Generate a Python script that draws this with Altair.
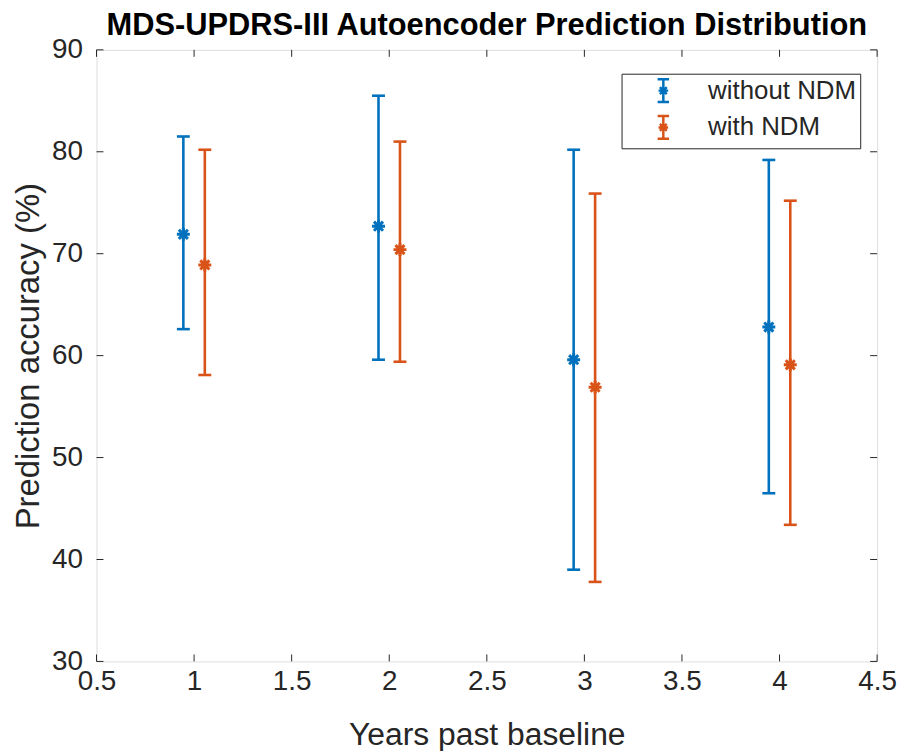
import altair as alt
import pandas as pd

years = [1, 2, 3, 4]
series_names = ["without NDM", "with NDM"]
without_mean = [71.9, 72.7, 59.6, 62.8]
without_upper = [81.5, 85.5, 80.2, 79.2]
without_lower = [62.6, 59.6, 39.0, 46.5]
with_mean = [68.9, 70.4, 56.9, 59.1]
with_upper = [80.2, 81.0, 75.9, 75.2]
with_lower = [58.1, 59.4, 37.8, 43.4]
x_ticks = [0.5, 1, 1.5, 2, 2.5, 3, 3.5, 4, 4.5]
y_ticks = [30, 40, 50, 60, 70, 80, 90]
dodge = 0.055

rows = []
for i, yr in enumerate(years):
    rows.append(dict(x=yr - dodge, mean=without_mean[i], lo=without_lower[i],
                     hi=without_upper[i], series=series_names[0]))
    rows.append(dict(x=yr + dodge, mean=with_mean[i], lo=with_lower[i],
                     hi=with_upper[i], series=series_names[1]))
df = pd.DataFrame(rows)

W, H = 785, 615
FONT = "Liberation Sans"
TXT = "#262626"
colors = ["#0072BD", "#D95319"]

xscale = alt.Scale(domain=[0.5, 4.5], nice=False, zero=False)
yscale = alt.Scale(domain=[30, 90], nice=False, zero=False)

xax = alt.Axis(values=x_ticks, format="~g", grid=False, ticks=False, domain=False,
               labelFontSize=28, labelFont=FONT, labelColor=TXT, labelPadding=6,
               title="Years past baseline", titleFontSize=32, titleFont=FONT,
               titleColor=TXT, titleFontWeight="normal", titlePadding=25,
               labelFlush=False, labelOverlap=False)
yax = alt.Axis(values=y_ticks, grid=False, ticks=False, domain=False,
               labelFontSize=28, labelFont=FONT, labelColor=TXT, labelPadding=14,
               title="Prediction accuracy (%)", titleFontSize=33, titleFont=FONT,
               titleColor=TXT, titleFontWeight="normal", titlePadding=6)

asterisk = "M-1,0L1,0M0,-1L0,1M-0.7,-0.7L0.7,0.7M-0.7,0.7L0.7,-0.7"
cap = "M-1,0L1,0"
legend_sym = ("M-0.5,-1L0.5,-1M0,-1L0,1M-0.5,1L0.5,1"
              "M-0.42,0L0.42,0M0,-0.42L0,0.42M-0.3,-0.3L0.3,0.3M-0.3,0.3L0.3,-0.3")

legend = alt.Legend(orient="none", legendX=528, legendY=24, title=None,
                    labelFontSize=26, labelFont=FONT, labelColor=TXT,
                    symbolType=legend_sym, symbolSize=529,
                    symbolStrokeWidth=2.5, symbolFillColor="transparent",
                    strokeColor=TXT, fillColor="white", padding=4,
                    symbolOffset=25, labelOffset=32, rowPadding=3,
                    labelLimit=400)
color = alt.Color("series:N", scale=alt.Scale(domain=series_names, range=colors),
                  legend=legend)

base = alt.Chart(df)
bars = base.mark_rule(strokeWidth=2.6).encode(
    x=alt.X("x:Q", scale=xscale, axis=xax),
    y=alt.Y("lo:Q", scale=yscale, axis=yax),
    y2="hi:Q",
    color=color,
)
caps_hi = base.mark_point(shape=cap, size=169, filled=False, strokeWidth=2.6, opacity=1).encode(
    x=alt.X("x:Q", scale=xscale), y=alt.Y("hi:Q", scale=yscale), color=color)
caps_lo = base.mark_point(shape=cap, size=169, filled=False, strokeWidth=2.6, opacity=1).encode(
    x=alt.X("x:Q", scale=xscale), y=alt.Y("lo:Q", scale=yscale), color=color)
pts = base.mark_point(shape=asterisk, size=170, filled=False, strokeWidth=3, opacity=1).encode(
    x=alt.X("x:Q", scale=xscale), y=alt.Y("mean:Q", scale=yscale), color=color)

ydf = pd.DataFrame({"v": y_ticks})
xdf = pd.DataFrame({"v": x_ticks})
tick_style = dict(color=TXT, strokeWidth=1)
yt_left = alt.Chart(ydf).mark_rule(**tick_style).encode(
    y=alt.Y("v:Q", scale=yscale), x=alt.value(0), x2=alt.value(7))
yt_right = alt.Chart(ydf).mark_rule(**tick_style).encode(
    y=alt.Y("v:Q", scale=yscale), x=alt.value(W - 7), x2=alt.value(W))
xt_bot = alt.Chart(xdf).mark_rule(**tick_style).encode(
    x=alt.X("v:Q", scale=xscale), y=alt.value(H), y2=alt.value(H - 7))
xt_top = alt.Chart(xdf).mark_rule(**tick_style).encode(
    x=alt.X("v:Q", scale=xscale), y=alt.value(0), y2=alt.value(7))

chart = alt.layer(yt_left, yt_right, xt_bot, xt_top, bars, caps_hi, caps_lo, pts).properties(
    width=W, height=H,
    title=alt.TitleParams("MDS-UPDRS-III Autoencoder Prediction Distribution",
                          fontSize=31, font=FONT, fontWeight="bold", color="#000000",
                          anchor="middle", offset=8, dy=14),
    autosize=alt.AutoSizeParams(type="none"),
    padding={"left": 89, "top": 40, "right": 22, "bottom": 88},
).configure_view(stroke=TXT, strokeWidth=1).configure(background="white")

chart.save("out.html", embed_options={"renderer": "svg", "actions": False})
